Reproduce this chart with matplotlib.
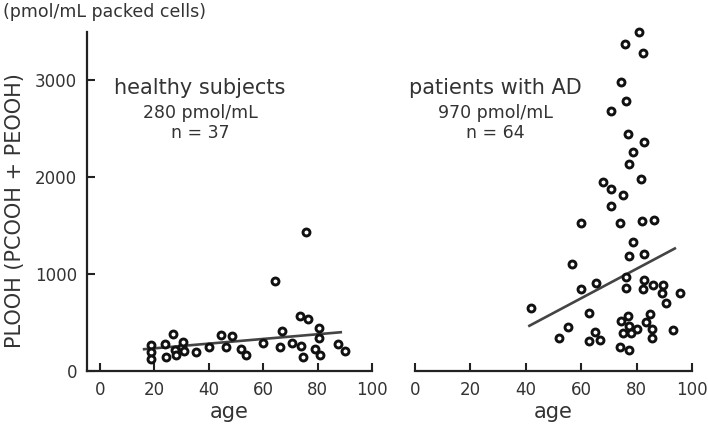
import numpy as np
import matplotlib as mpl
mpl.use('Agg')
import matplotlib.pyplot as plt

# healthy subjects (age, PLOOH pmol/mL)
healthy_age = [18.6, 18.6, 18.6, 23.9, 24.2, 26.9, 27.6, 27.8, 30.0, 30.6, 30.9,
               35.2, 40.1, 44.4, 46.2, 48.6, 51.8, 53.7, 59.8, 64.3, 66.2, 66.8,
               70.5, 73.5, 73.9, 74.7, 75.7, 76.6, 79.0, 80.6, 80.5, 80.9, 87.6, 90.1]
healthy_val = [268, 193, 121, 278, 147, 381, 216, 165, 250, 302, 206,
               199, 250, 371, 250, 364, 224, 165, 292, 931, 250, 415,
               292, 567, 258, 141, 1430, 536, 224, 440, 337, 165, 278, 206]
healthy_fit_x = [16.2, 88.5]
healthy_fit_y = [225, 400]

# patients with AD
ad_age = [80.8, 75.7, 82.4, 74.3, 76.3, 70.7, 76.9, 82.7, 78.7, 77.3, 81.5,
          67.9, 70.9, 75.1, 70.9, 60.0, 73.9, 81.8, 86.2, 78.7, 77.2, 82.6,
          56.8, 76.3, 65.2, 82.7, 85.8, 89.4, 76.0, 82.4, 60.0, 95.7, 89.0,
          90.5, 41.9, 62.8, 84.8, 76.9, 74.2, 83.5, 55.2, 77.2, 80.0, 85.4,
          93.2, 75.1, 77.9, 65.1, 51.9, 62.7, 66.7, 85.6, 74.0, 77.2]
ad_val = [3498, 3371, 3286, 2983, 2787, 2684, 2443, 2364, 2261, 2134, 1987,
          1952, 1884, 1822, 1704, 1523, 1533, 1550, 1557, 1327, 1189, 1213,
          1100, 966, 904, 938, 887, 887, 859, 842, 842, 807, 801,
          698, 646, 595, 588, 567, 519, 509, 451, 464, 430, 430,
          423, 389, 395, 405, 337, 312, 320, 337, 244, 217]
ad_fit_x = [41.3, 93.8]
ad_fit_y = [467, 1265]

x_ticks = [0, 20, 40, 60, 80, 100]
y_ticks = [0, 1000, 2000, 3000]

W, H = 708, 430
txt = '#333333'
axc = '#222222'

fig = plt.figure(figsize=(W / 100, H / 100), dpi=100)

def px(x0, y0, x1, y1):
    return [x0 / W, 1 - y1 / H, (x1 - x0) / W, (y1 - y0) / H]

ax1 = fig.add_axes(px(87, 32, 372, 371))
ax2 = fig.add_axes(px(415, 32, 692, 371))

for ax, ages, vals, fx, fy in [(ax1, healthy_age, healthy_val, healthy_fit_x, healthy_fit_y),
                               (ax2, ad_age, ad_val, ad_fit_x, ad_fit_y)]:
    ax.plot(fx, fy, color='#444444', lw=1.9, zorder=2)
    ax.plot(ages, vals, 'o', ms=5, mfc='white', mec='#111111', mew=2.1,
            zorder=3, clip_on=False)
    ax.set_ylim(0, 3500)
    ax.set_xticks(x_ticks)
    ax.set_xticklabels([str(t) for t in x_ticks], fontsize=12, color=txt)
    ax.tick_params(axis='x', direction='in', length=6, width=1.5, color=axc, pad=7)
    ax.spines['top'].set_visible(False)
    ax.spines['right'].set_visible(False)
    ax.spines['bottom'].set_linewidth(1.6)
    ax.spines['bottom'].set_color(axc)
    ax.set_xlabel('age', fontsize=15, color=txt, labelpad=2)
    ax.patch.set_alpha(0)

ax1.set_xlim(-4.8, 100)
ax1.spines['left'].set_linewidth(1.6)
ax1.spines['left'].set_color(axc)
ax1.set_yticks(y_ticks)
ax1.set_yticklabels([str(t) for t in y_ticks], fontsize=12, color=txt)
ax1.tick_params(axis='y', direction='in', length=6, width=1.5, color=axc, pad=7)

ax2.set_xlim(0, 100)
ax2.spines['left'].set_visible(False)
ax2.set_yticks([])

def ftext(x, y, s, **kw):
    fig.text(x / W, 1 - y / H, s, color=txt, **kw)

ftext(3, 12, '(pmol/mL packed cells)', fontsize=12.5, ha='left', va='center')
ftext(15, 211, 'PLOOH (PCOOH + PEOOH)', fontsize=15, rotation=90, ha='center', va='center')

ftext(200, 88, 'healthy subjects', fontsize=15, ha='center', va='center')
ftext(200, 113, '280 pmol/mL', fontsize=12.5, ha='center', va='center')
ftext(200, 133, 'n = 37', fontsize=12.5, ha='center', va='center')

ftext(495, 88, 'patients with AD', fontsize=15, ha='center', va='center')
ftext(495, 113, '970 pmol/mL', fontsize=12.5, ha='center', va='center')
ftext(495, 133, 'n = 64', fontsize=12.5, ha='center', va='center')

fig.savefig('out.png', dpi=100)
